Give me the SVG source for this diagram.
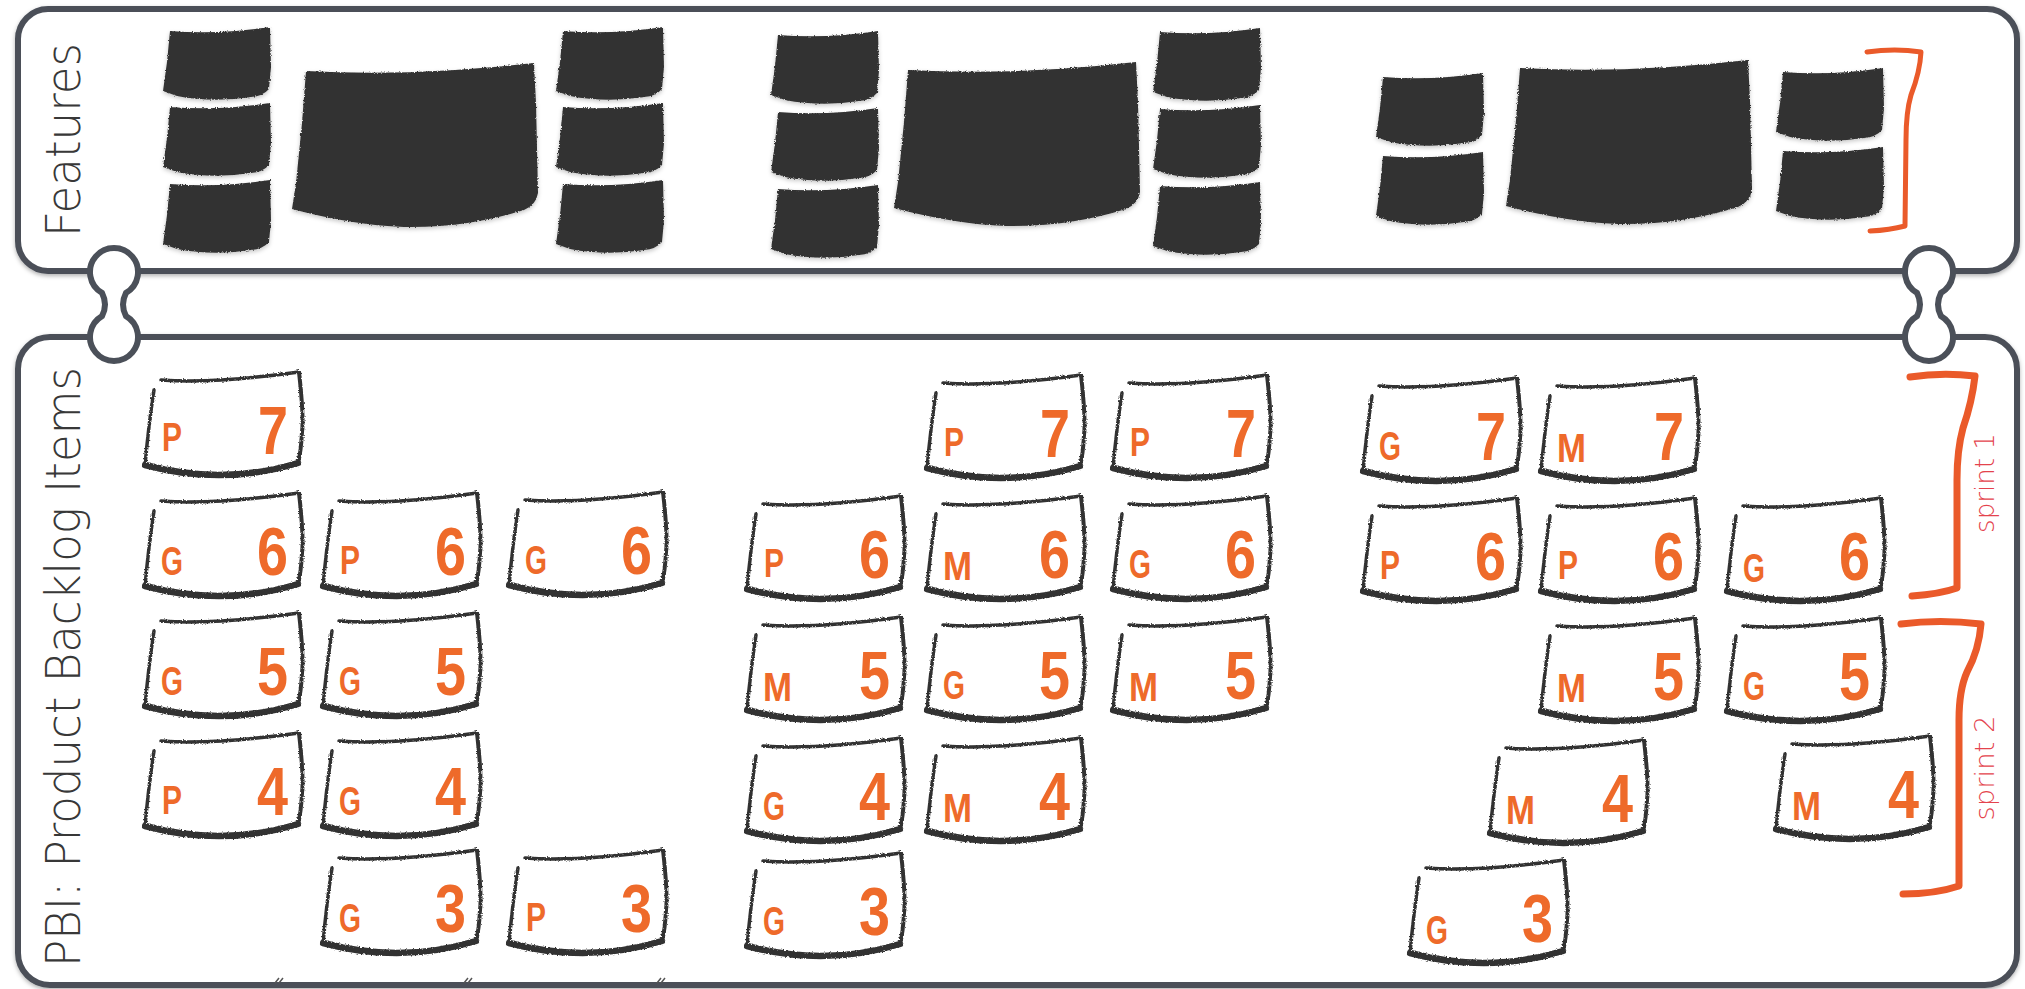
<svg xmlns="http://www.w3.org/2000/svg" xmlns:xlink="http://www.w3.org/1999/xlink" width="2025" height="989" viewBox="0 0 2025 989">
<style>
.panel{fill:#fff;stroke:#4b5059;stroke-width:6}
.blk{fill:#333}
.cs{fill:none;stroke:#333;stroke-linecap:round;stroke-linejoin:round}
.l{font-family:"Liberation Sans Narrow","Liberation Sans",Arial,sans-serif;font-weight:bold;font-size:40px;fill:#EE6A2A}
.n{font-family:"Liberation Sans Narrow","Liberation Sans",Arial,sans-serif;font-weight:bold;font-size:68px;fill:#EE6A2A;text-anchor:end}
.hand{font-family:"DejaVu Sans","Noto Sans",sans-serif;font-weight:300;fill:#383838;text-anchor:middle}
.spr{font-family:"DejaVu Sans","Noto Sans",sans-serif;font-weight:300;font-size:26px;fill:#E4434D;text-anchor:middle}
.br{fill:none;stroke:#EA5A2A;stroke-linecap:round;stroke-linejoin:round}
.conn{fill:#fff;stroke:#4b5059;stroke-width:6}
</style>
<defs>
<filter id="sh" x="-2%" y="-5%" width="104%" height="112%"><feDropShadow dx="0" dy="2" stdDeviation="2" flood-color="#000" flood-opacity="0.3"/></filter>
<filter id="rough" x="-5%" y="-5%" width="110%" height="115%"><feTurbulence type="fractalNoise" baseFrequency="0.7" numOctaves="2" seed="4"/><feDisplacementMap in="SourceGraphic" scale="3" xChannelSelector="R" yChannelSelector="G"/></filter>
<filter id="roughsh" x="-3%" y="-5%" width="106%" height="115%"><feTurbulence type="fractalNoise" baseFrequency="0.7" numOctaves="2" seed="4"/><feDisplacementMap in="SourceGraphic" scale="3" xChannelSelector="R" yChannelSelector="G"/><feDropShadow dx="0" dy="2" stdDeviation="2" flood-color="#000" flood-opacity="0.22"/></filter>
<path id="fs" class="blk" d="M7,4 Q55,8 107,0 L108,40 L106,62 Q100,69 88,70 Q50,76 14,69 L0,64 L4,35 Z"/>
<path id="fb" class="blk" d="M14,8 Q120,14 242,0 L244,40 L246,130 Q244,142 232,147 Q175,165 112,164 Q60,162 0,146 L4,120 L10,60 Z"/>
<g id="card" class="cs" filter="url(#rough)">
<path d="M18,8 Q70,12 156,0" stroke-width="3.5"/>
<path d="M156,0 Q161,45 159,60 Q158,80 155,91" stroke-width="4"/>
<path d="M155,91 Q80,114 2,93" stroke-width="6.5"/>
<path d="M2,93 Q6,50 11,18" stroke-width="3.5"/>
</g>
</defs>
<rect width="2025" height="989" fill="#fff"/>

<g id="features-panel">
<rect class="panel" x="18" y="9" width="1999" height="262" rx="30" filter="url(#sh)"/>
<text class="hand" font-size="48" textLength="194" lengthAdjust="spacingAndGlyphs" transform="translate(80,140) rotate(-90)">Features</text>
</g>
<g id="pbi-panel">
<rect class="panel" x="18" y="337" width="1999" height="648" rx="32" filter="url(#sh)"/>
<text class="hand" font-size="48" textLength="600" lengthAdjust="spacingAndGlyphs" transform="translate(80,667) rotate(-90)">PBI: Product Backlog Items</text>
<path d="M275,983 l4,-5 M279,983 l4,-5 M464,983 l4,-5 M468,983 l4,-5 M657,983 l4,-5 M661,983 l4,-5" stroke="#555" stroke-width="1.5" fill="none"/>
</g>

<g id="connectors">
<path class="conn" d="M126,292.8 Q120,304.5 126,316.2 A24,24 0 1 1 102,316.2 Q108,304.5 102,292.8 A24,24 0 1 1 126,292.8 Z"/>
<path class="conn" d="M1941,292.8 Q1935,304.5 1941,316.2 A24,24 0 1 1 1917,316.2 Q1923,304.5 1917,292.8 A24,24 0 1 1 1941,292.8 Z"/>
</g>

<g id="features" filter="url(#roughsh)">
<g id="feature-1">
<use href="#fs" x="163" y="27"/><use href="#fs" x="163" y="103"/><use href="#fs" x="163" y="180"/>
<use href="#fb" x="292" y="63"/>
<use href="#fs" x="556" y="27"/><use href="#fs" x="556" y="103"/><use href="#fs" x="556" y="180"/>
</g>
<g id="feature-2">
<use href="#fs" x="771" y="31"/><use href="#fs" x="771" y="108"/><use href="#fs" x="771" y="185"/>
<use href="#fb" x="894" y="62"/>
<use href="#fs" x="1153" y="28"/><use href="#fs" x="1153" y="105"/><use href="#fs" x="1153" y="182"/>
</g>
<g id="feature-3">
<use href="#fs" x="1376" y="73"/><use href="#fs" x="1376" y="152"/>
<use href="#fb" x="1506" y="60"/>
<use href="#fs" x="1776" y="68"/><use href="#fs" x="1776" y="147"/>
</g>
</g>
<g id="feature-bracket">
<path class="br" stroke-width="5" d="M1867,52 Q1895,48 1921,52 Q1920,72 1911,95 Q1906,112 1906,140 L1905,226 Q1890,230 1870,231"/>
</g>

<g id="pbi-cards">
<g id="c1" transform="translate(143,372)"><use href="#card"/><text class="l" x="19" y="79" textLength="20" lengthAdjust="spacingAndGlyphs">P</text><text class="n" x="145" y="82" textLength="30" lengthAdjust="spacingAndGlyphs">7</text></g>
<g id="c2" transform="translate(143,493)"><use href="#card"/><text class="l" x="18" y="82" textLength="22" lengthAdjust="spacingAndGlyphs">G</text><text class="n" x="145" y="82" textLength="31" lengthAdjust="spacingAndGlyphs">6</text></g>
<g id="c3" transform="translate(321,493)"><use href="#card"/><text class="l" x="19" y="81" textLength="20" lengthAdjust="spacingAndGlyphs">P</text><text class="n" x="145" y="82" textLength="31" lengthAdjust="spacingAndGlyphs">6</text></g>
<g id="c4" transform="translate(507,492)"><use href="#card"/><text class="l" x="18" y="82" textLength="22" lengthAdjust="spacingAndGlyphs">G</text><text class="n" x="145" y="82" textLength="31" lengthAdjust="spacingAndGlyphs">6</text></g>
<g id="c5" transform="translate(143,613)"><use href="#card"/><text class="l" x="18" y="82" textLength="22" lengthAdjust="spacingAndGlyphs">G</text><text class="n" x="145" y="82" textLength="31" lengthAdjust="spacingAndGlyphs">5</text></g>
<g id="c6" transform="translate(321,613)"><use href="#card"/><text class="l" x="18" y="82" textLength="22" lengthAdjust="spacingAndGlyphs">G</text><text class="n" x="145" y="82" textLength="31" lengthAdjust="spacingAndGlyphs">5</text></g>
<g id="c7" transform="translate(143,733)"><use href="#card"/><text class="l" x="19" y="81" textLength="20" lengthAdjust="spacingAndGlyphs">P</text><text class="n" x="145" y="82" textLength="31" lengthAdjust="spacingAndGlyphs">4</text></g>
<g id="c8" transform="translate(321,733)"><use href="#card"/><text class="l" x="18" y="82" textLength="22" lengthAdjust="spacingAndGlyphs">G</text><text class="n" x="145" y="82" textLength="31" lengthAdjust="spacingAndGlyphs">4</text></g>
<g id="c9" transform="translate(321,850)"><use href="#card"/><text class="l" x="18" y="82" textLength="22" lengthAdjust="spacingAndGlyphs">G</text><text class="n" x="145" y="82" textLength="31" lengthAdjust="spacingAndGlyphs">3</text></g>
<g id="c10" transform="translate(507,850)"><use href="#card"/><text class="l" x="19" y="81" textLength="20" lengthAdjust="spacingAndGlyphs">P</text><text class="n" x="145" y="82" textLength="31" lengthAdjust="spacingAndGlyphs">3</text></g>

<g id="c11" transform="translate(925,375)"><use href="#card"/><text class="l" x="19" y="81" textLength="20" lengthAdjust="spacingAndGlyphs">P</text><text class="n" x="145" y="82" textLength="30" lengthAdjust="spacingAndGlyphs">7</text></g>
<g id="c12" transform="translate(1111,375)"><use href="#card"/><text class="l" x="19" y="81" textLength="20" lengthAdjust="spacingAndGlyphs">P</text><text class="n" x="145" y="82" textLength="30" lengthAdjust="spacingAndGlyphs">7</text></g>
<g id="c13" transform="translate(745,496)"><use href="#card"/><text class="l" x="19" y="81" textLength="20" lengthAdjust="spacingAndGlyphs">P</text><text class="n" x="145" y="82" textLength="31" lengthAdjust="spacingAndGlyphs">6</text></g>
<g id="c14" transform="translate(925,496)"><use href="#card"/><text class="l" x="18" y="84" textLength="29" lengthAdjust="spacingAndGlyphs">M</text><text class="n" x="145" y="82" textLength="31" lengthAdjust="spacingAndGlyphs">6</text></g>
<g id="c15" transform="translate(1111,496)"><use href="#card"/><text class="l" x="18" y="82" textLength="22" lengthAdjust="spacingAndGlyphs">G</text><text class="n" x="145" y="82" textLength="31" lengthAdjust="spacingAndGlyphs">6</text></g>
<g id="c16" transform="translate(745,617)"><use href="#card"/><text class="l" x="18" y="84" textLength="29" lengthAdjust="spacingAndGlyphs">M</text><text class="n" x="145" y="82" textLength="31" lengthAdjust="spacingAndGlyphs">5</text></g>
<g id="c17" transform="translate(925,617)"><use href="#card"/><text class="l" x="18" y="82" textLength="22" lengthAdjust="spacingAndGlyphs">G</text><text class="n" x="145" y="82" textLength="31" lengthAdjust="spacingAndGlyphs">5</text></g>
<g id="c18" transform="translate(1111,617)"><use href="#card"/><text class="l" x="18" y="84" textLength="29" lengthAdjust="spacingAndGlyphs">M</text><text class="n" x="145" y="82" textLength="31" lengthAdjust="spacingAndGlyphs">5</text></g>
<g id="c19" transform="translate(745,738)"><use href="#card"/><text class="l" x="18" y="82" textLength="22" lengthAdjust="spacingAndGlyphs">G</text><text class="n" x="145" y="82" textLength="31" lengthAdjust="spacingAndGlyphs">4</text></g>
<g id="c20" transform="translate(925,738)"><use href="#card"/><text class="l" x="18" y="84" textLength="29" lengthAdjust="spacingAndGlyphs">M</text><text class="n" x="145" y="82" textLength="31" lengthAdjust="spacingAndGlyphs">4</text></g>
<g id="c21" transform="translate(745,853)"><use href="#card"/><text class="l" x="18" y="82" textLength="22" lengthAdjust="spacingAndGlyphs">G</text><text class="n" x="145" y="82" textLength="31" lengthAdjust="spacingAndGlyphs">3</text></g>

<g id="c22" transform="translate(1361,378)"><use href="#card"/><text class="l" x="18" y="82" textLength="22" lengthAdjust="spacingAndGlyphs">G</text><text class="n" x="145" y="82" textLength="30" lengthAdjust="spacingAndGlyphs">7</text></g>
<g id="c23" transform="translate(1539,378)"><use href="#card"/><text class="l" x="18" y="84" textLength="29" lengthAdjust="spacingAndGlyphs">M</text><text class="n" x="145" y="82" textLength="30" lengthAdjust="spacingAndGlyphs">7</text></g>
<g id="c24" transform="translate(1361,498)"><use href="#card"/><text class="l" x="19" y="81" textLength="20" lengthAdjust="spacingAndGlyphs">P</text><text class="n" x="145" y="82" textLength="31" lengthAdjust="spacingAndGlyphs">6</text></g>
<g id="c25" transform="translate(1539,498)"><use href="#card"/><text class="l" x="19" y="81" textLength="20" lengthAdjust="spacingAndGlyphs">P</text><text class="n" x="145" y="82" textLength="31" lengthAdjust="spacingAndGlyphs">6</text></g>
<g id="c26" transform="translate(1725,498)"><use href="#card"/><text class="l" x="18" y="84" textLength="22" lengthAdjust="spacingAndGlyphs">G</text><text class="n" x="145" y="82" textLength="31" lengthAdjust="spacingAndGlyphs">6</text></g>
<g id="c27" transform="translate(1539,618)"><use href="#card"/><text class="l" x="18" y="84" textLength="29" lengthAdjust="spacingAndGlyphs">M</text><text class="n" x="145" y="82" textLength="31" lengthAdjust="spacingAndGlyphs">5</text></g>
<g id="c28" transform="translate(1725,618)"><use href="#card"/><text class="l" x="18" y="82" textLength="22" lengthAdjust="spacingAndGlyphs">G</text><text class="n" x="145" y="82" textLength="31" lengthAdjust="spacingAndGlyphs">5</text></g>
<g id="c29" transform="translate(1488,740)"><use href="#card"/><text class="l" x="18" y="84" textLength="29" lengthAdjust="spacingAndGlyphs">M</text><text class="n" x="145" y="82" textLength="31" lengthAdjust="spacingAndGlyphs">4</text></g>
<g id="c30" transform="translate(1774,736)"><use href="#card"/><text class="l" x="18" y="84" textLength="29" lengthAdjust="spacingAndGlyphs">M</text><text class="n" x="145" y="82" textLength="31" lengthAdjust="spacingAndGlyphs">4</text></g>
<g id="c31" transform="translate(1408,860)"><use href="#card"/><text class="l" x="18" y="84" textLength="22" lengthAdjust="spacingAndGlyphs">G</text><text class="n" x="145" y="82" textLength="31" lengthAdjust="spacingAndGlyphs">3</text></g>
</g>

<g id="sprint-1">
<path class="br" stroke-width="7" d="M1910,377 Q1942,372 1975,376 Q1972,402 1963,428 Q1957,450 1957,480 L1957,588 Q1940,594 1912,596"/>
<text class="spr" textLength="100" lengthAdjust="spacingAndGlyphs" transform="translate(1994,483) rotate(-90)">sprint 1</text>
</g>
<g id="sprint-2">
<path class="br" stroke-width="7" d="M1901,624 Q1940,619 1981,624 Q1979,650 1967,672 Q1959,690 1959,720 L1959,886 Q1935,894 1903,894"/>
<text class="spr" textLength="105" lengthAdjust="spacingAndGlyphs" transform="translate(1994,768) rotate(-90)">sprint 2</text>
</g>
</svg>
